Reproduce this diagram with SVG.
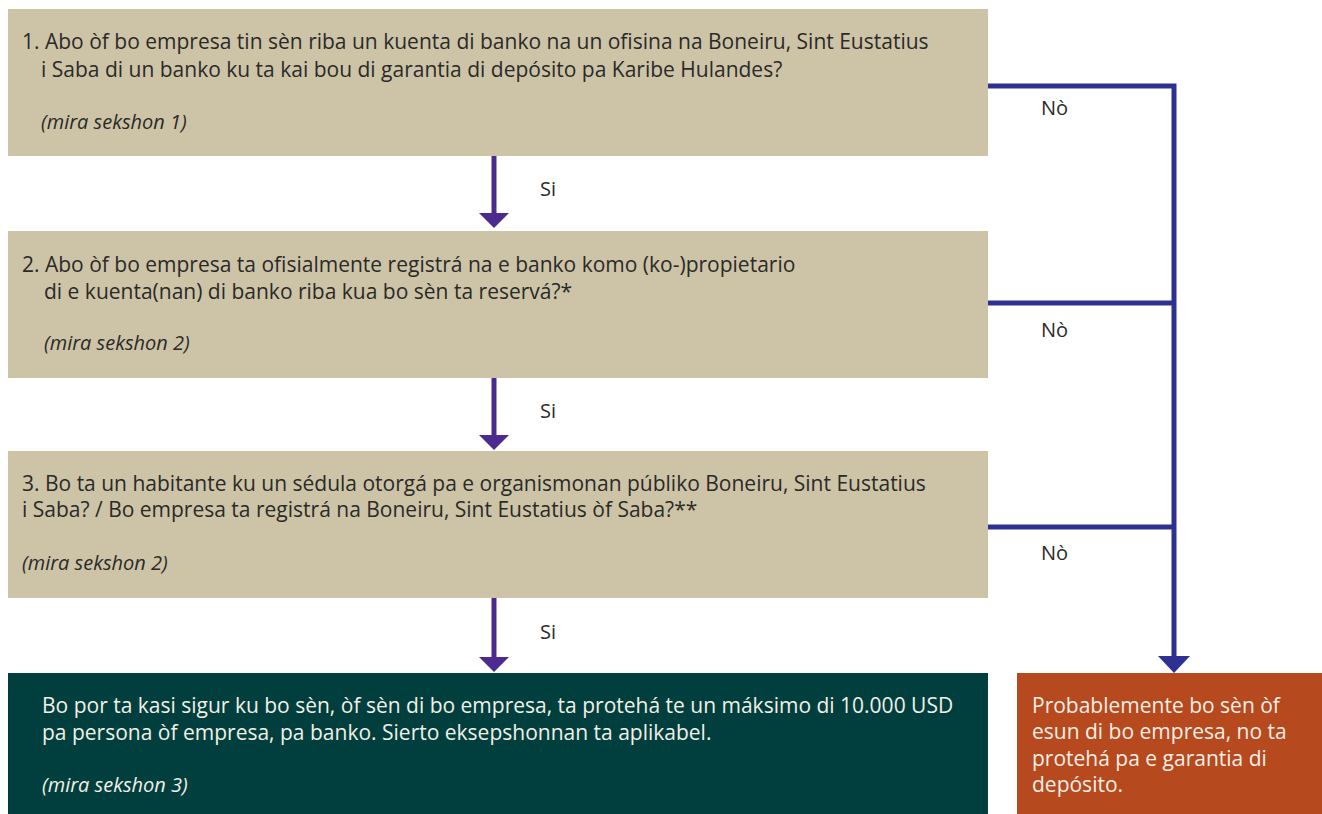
<svg xmlns="http://www.w3.org/2000/svg" width="1322" height="814" viewBox="0 0 1322 814">
<style>
.q{fill:#cdc4a7}
.t{font-family:"Open Sans","Liberation Sans",sans-serif;font-size:21px;fill:#2b2a28}
.w{font-family:"Open Sans","Liberation Sans",sans-serif;font-size:21px;fill:#f3efe6}
.i{font-style:italic;font-size:20px}
.lbl{font-family:"Open Sans","Liberation Sans",sans-serif;font-size:20px;fill:#2b2a28}
.pl{stroke:#4b2c8e;stroke-width:5;fill:none}
.bl{stroke:#2e3192;stroke-width:5;fill:none}
</style>
<rect width="1322" height="814" fill="#ffffff"/>
<g id="q1">
<rect class="q" x="8" y="9" width="980" height="147"/>
<text class="t" x="22" y="49">1. Abo òf bo empresa tin sèn riba un kuenta di banko na un ofisina na Boneiru, Sint Eustatius</text>
<text class="t" x="41" y="77">i Saba di un banko ku ta kai bou di garantia di depósito pa Karibe Hulandes?</text>
<text class="t i" x="41" y="129">(mira sekshon 1)</text>
</g>
<g id="q2">
<rect class="q" x="8" y="231" width="980" height="147"/>
<text class="t" x="22" y="272">2. Abo òf bo empresa ta ofisialmente registrá na e banko komo (ko-)propietario</text>
<text class="t" x="44" y="299">di e kuenta(nan) di banko riba kua bo sèn ta reservá?*</text>
<text class="t i" x="44" y="350">(mira sekshon 2)</text>
</g>
<g id="q3">
<rect class="q" x="8" y="451" width="980" height="147"/>
<text class="t" x="22" y="491">3. Bo ta un habitante ku un sédula otorgá pa e organismonan públiko Boneiru, Sint Eustatius</text>
<text class="t" x="22" y="517">i Saba? / Bo empresa ta registrá na Boneiru, Sint Eustatius òf Saba?**</text>
<text class="t i" x="22" y="570">(mira sekshon 2)</text>
</g>
<g id="yes">
<rect x="8" y="673" width="980" height="141" fill="#003f3d"/>
<text class="w" x="42" y="713">Bo por ta kasi sigur ku bo sèn, òf sèn di bo empresa, ta protehá te un máksimo di 10.000 USD</text>
<text class="w" x="42" y="740">pa persona òf empresa, pa banko. Sierto eksepshonnan ta aplikabel.</text>
<text class="w i" x="42" y="792">(mira sekshon 3)</text>
</g>
<g id="no">
<rect x="1017" y="673" width="305" height="141" fill="#b7491e"/>
<text class="w" x="1032" y="713">Probablemente bo sèn òf</text>
<text class="w" x="1032" y="739">esun di bo empresa, no ta</text>
<text class="w" x="1032" y="766">protehá pa e garantia di</text>
<text class="w" x="1032" y="792">depósito.</text>
</g>
<g id="connectors">
<line class="pl" x1="494" y1="156" x2="494" y2="214"/>
<polygon points="479,213 509,213 494,228" fill="#4b2c8e"/>
<line class="pl" x1="494" y1="378" x2="494" y2="436"/>
<polygon points="479,435 509,435 494,450" fill="#4b2c8e"/>
<line class="pl" x1="494" y1="598" x2="494" y2="658"/>
<polygon points="479,657 509,657 494,672" fill="#4b2c8e"/>
<polyline class="bl" points="988,86 1174,86 1174,658"/>
<line class="bl" x1="988" y1="303" x2="1174" y2="303"/>
<line class="bl" x1="988" y1="527" x2="1174" y2="527"/>
<polygon points="1158,656 1190,656 1174,673" fill="#2e3192"/>
<text class="lbl" x="540" y="196">Si</text>
<text class="lbl" x="540" y="418">Si</text>
<text class="lbl" x="540" y="639">Si</text>
<text class="lbl" x="1041" y="115">Nò</text>
<text class="lbl" x="1041" y="337">Nò</text>
<text class="lbl" x="1041" y="560">Nò</text>
</g>
</svg>
